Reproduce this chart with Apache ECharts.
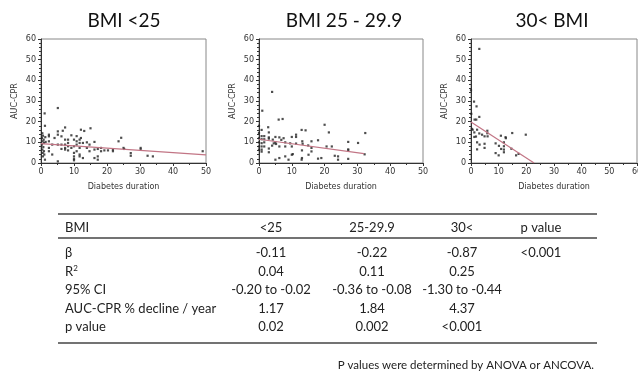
<!DOCTYPE html>
<html><head><meta charset="utf-8">
<script src="https://cdn.jsdelivr.net/npm/echarts@6/dist/echarts.min.js"></script>
<style>html,body{margin:0;padding:0;background:#fff}#c{width:638px;height:372px}</style>
</head><body><div id="c"></div>
<script>
// ---- data ----
const panelTitles = ['BMI <25', 'BMI 25 - 29.9', '30< BMI'];
const xMaxes = [50, 50, 60];

const bmiLow = [
  [0.4,14.4],[0.6,13.2],[0.3,12.1],[0.8,11.3],[0.5,10.5],[0.9,9.7],[0.3,8.9],[0.7,7.7],[0.4,6.5],[0.9,5.7],[0.5,4.9],[1.0,4.1],[0.6,3.2],[1.2,1.6],
  [1.1,24],[1.2,18],[1.3,12.5],[1.4,10.2],
  [2.4,13.7],[2.4,12.9],[2.4,10.5],[2.4,7.3],[2.4,5.7],
  [3.4,8.9],[3.4,4.1],[4.1,12.1],
  [5.1,26.6],[5.1,15.3],[5.1,13.7],[5.1,8.9],[5.1,0.8],
  [6.2,12.9],[6.2,8.9],[6.2,6.8],[6.6,15.6],
  [7.3,17.2],[7.3,11.3],[7.3,8.9],[7.3,7.3],[7.3,6.5],
  [8.2,11.3],[8.2,9.7],[8.2,8.1],[8.2,6.1],
  [9.2,13.4],[9.2,7.3],
  [10.0,11.3],[10.0,8.1],[10.0,4.9],[10.0,3.2],[10.0,2.0],[10.0,1.3],
  [10.8,13.0],[10.8,10.5],[10.8,8.9],[10.8,5.7],
  [11.7,11.3],[11.7,9.7],[11.7,7.3],[11.7,4.1],[11.7,3.2],
  [12.1,16.1],[12.1,12.1],[12.7,9.7],[12.7,2.4],[13.1,15.5],
  [13.9,10.0],[13.9,7.3],[14.7,8.9],[14.7,5.7],[15,16.8],
  [16.2,10.2],[16.2,6.5],[16.2,2.4],
  [17.2,6.8],[17.2,3.2],[17.2,1.6],
  [18.2,7.3],[18.2,5.7],[19.2,6.1],[20.3,6.1],
  [21.8,6.5],[21.8,5.7],[23.5,10.5],[24.3,12.2],[25,7.3],[25.2,6.8],
  [27.2,4.8],[27.2,3.5],[30.2,7.3],[30.2,6.5],[32.3,3.5],[33.9,3.2],[49,5.7]
];
const bmiMid = [
  [4,34.4],[1,25.3],[6,21],[7.2,21.3],[2.8,17.3],[0,18],[0,14.5],[0,10],[0,8],[0,6.5],[0,12],
  [0.8,13],[0.8,11.5],[0.8,9.6],[0.8,8],[0.8,6.5],[0.8,5.5],[0.8,16],
  [1.6,13],[1.6,11.5],[1.6,10],[1.6,8],
  [3,12.4],[3,14.8],[3,7],[3,5.2],[3,11.8],
  [4,8.4],[4.2,11.3],[4.5,9.5],
  [5,12.6],[5,10],[5,1.6],[5.2,9.2],
  [6.2,12.4],[6.2,8],[6.2,2.4],[6.8,11.2],
  [8,10],[8,8],[8,3.2],[7.5,12],
  [9,1.6],[9.5,9.5],
  [10,12.6],[10,8],[10,4],[10.3,4.3],
  [11.3,13.7],[11.3,12.6],[11.3,9.4],
  [13,16],[14.2,15.8],[13.2,10.5],[13.1,6.1],[13.1,2.4],[13,1.6],[13.3,9.3],
  [15.1,4],[15,8.5],[16,10.5],[16,7.3],[16,5.6],
  [18,2.1],[19,2.4],[18,11],
  [20,18.5],[21.3,14.8],[20.6,8],[22.2,8],
  [23.1,3.5],[24.1,3.2],[24.1,1.6],
  [27.2,10.2],[27.2,6.1],[27.2,2],[27.2,6.6],
  [30.2,9.7],[32.4,14.5],[32.2,4.2]
];
const bmiHigh = [
  [3,55.2],[0,35.2],[1.1,29.7],[2.0,27.4],[3.0,22.3],[0.1,23.8],[1.3,21],[1.9,21],
  [0.6,16.1],[2.2,16.1],[1.2,14.8],[1.2,12.6],[3,14.3],[4,13.7],[4.9,12.9],
  [5.9,15.6],[5.9,14.4],[6,12.9],[2.2,10],[2.2,6.6],[3.1,8.9],[4.9,9.3],[4.9,7.3],
  [8.9,9.5],[10.1,8.3],[10,3.7],[8.9,4.8],[10.8,13.2],[10.9,6.8],
  [11.9,10],[11.9,8.1],[11.9,6.5],[11.9,5.2],[12.5,12.5],[12.6,12],
  [14.9,14.5],[14.6,6.9],[16.3,3.7],[17.2,4.4],[19.8,13.7],[0.3,16.5],[1.8,12.8]
];
const fitLow = [[0, 9.4], [50, 3.9]];
const fitMid = [[0, 11.5], [32, 4.5]];
const fitHigh = [[0, 19.8], [22.8, 0]];

const tableHeader = ['BMI', '<25', '25-29.9', '30<', 'p value'];
const rowBeta = ['β', '-0.11', '-0.22', '-0.87', '<0.001'];
const rowR2 = ['R{sup|2}', '0.04', '0.11', '0.25', ''];
const rowCI = ['95% CI', '-0.20 to -0.02', '-0.36 to -0.08', '-1.30 to -0.44', ''];
const rowDecline = ['AUC-CPR % decline / year', '1.17', '1.84', '4.37', ''];
const rowP = ['p value', '0.02', '0.002', '<0.001', ''];
const footnote = 'P values were determined by ANOVA or ANCOVA.';

// ---- layout ----
const scatterData = [bmiLow, bmiMid, bmiHigh];
const fitData = [fitLow, fitMid, fitHigh];
const grids = [
  {left: 41, top: 39, width: 165, height: 124},
  {left: 259, top: 39, width: 164, height: 124},
  {left: 471, top: 39, width: 166, height: 124}
];
const axisFont = {fontFamily: 'DejaVu Sans', fontSize: 8, color: '#333'};
const tableFont = 'Lato';

const option = {
  animation: false,
  backgroundColor: '#fff',
  grid: grids.map(g => Object.assign({show: true, borderColor: '#888', borderWidth: 1, containLabel: false, outerBoundsMode: 'none'}, g)),
  xAxis: grids.map((g, i) => ({
    gridIndex: i, type: 'value', min: 0, max: xMaxes[i], interval: 10,
    axisLine: {show: true, onZero: false, lineStyle: {color: '#333', width: 1}},
    axisTick: {show: true, length: 3, lineStyle: {color: '#333'}},
    minorTick: {show: true, splitNumber: 2, length: 2, lineStyle: {color: '#333'}},
    splitLine: {show: false},
    axisLabel: Object.assign({margin: 5, showMaxLabel: true, hideOverlap: false}, axisFont),
    name: 'Diabetes duration', nameLocation: 'middle', nameGap: 20,
    nameTextStyle: axisFont
  })),
  yAxis: grids.map((g, i) => ({
    gridIndex: i, type: 'value', min: 0, max: 60, interval: 10,
    axisLine: {show: true, onZero: false, lineStyle: {color: '#333', width: 1}},
    axisTick: {show: true, length: 3, lineStyle: {color: '#333'}},
    minorTick: {show: true, splitNumber: 5, length: 2, lineStyle: {color: '#333'}},
    splitLine: {show: false},
    axisLabel: Object.assign({margin: 5}, axisFont),
    name: 'AUC-CPR', nameLocation: 'middle', nameGap: 22,
    nameTextStyle: axisFont
  })),
  series: [].concat(
    scatterData.map((d, i) => ({
      type: 'scatter', xAxisIndex: i, yAxisIndex: i, data: d,
      symbol: 'rect', symbolSize: 2.2, itemStyle: {color: '#222'}, silent: true
    })),
    fitData.map((d, i) => ({
      type: 'line', xAxisIndex: i, yAxisIndex: i, data: d,
      symbol: 'none', lineStyle: {color: '#c27585', width: 1.2}, silent: true, z: 3
    }))
  ),
  graphic: []
};

// titles
const titleCenters = [124, 344, 552];
panelTitles.forEach((t, i) => {
  option.graphic.push({type: 'text', x: titleCenters[i], y: 21, style: {
    text: t, font: '19px ' + tableFont, fill: '#111', align: 'center', verticalAlign: 'middle'}});
});

// table
const colX = [65, 271, 372, 462, 541];
const rowY = [227.5, 252.5, 271.5, 290, 308.5, 326.5];
const rows = [tableHeader, rowBeta, rowR2, rowCI, rowDecline, rowP];
rows.forEach((r, ri) => {
  r.forEach((cell, ci) => {
    if (!cell) return;
    option.graphic.push({type: 'text', x: colX[ci], y: rowY[ri], style: {
      text: cell, font: '13px ' + tableFont, fill: '#222',
      align: ci === 0 ? 'left' : 'center', verticalAlign: 'middle',
      rich: {sup: {fontSize: 8, fontFamily: tableFont, verticalAlign: 'top', padding: [0, 0, 6, 0], fill: '#222'}}
    }});
  });
});
const ruleYs = [214, 238, 343];
ruleYs.forEach(y => {
  option.graphic.push({type: 'line', shape: {x1: 58, y1: y, x2: 597, y2: y},
    style: {stroke: '#444', lineWidth: 1.5}});
});
option.graphic.push({type: 'text', x: 594, y: 365, style: {
  text: footnote, font: '11.5px ' + tableFont, fill: '#222', align: 'right', verticalAlign: 'middle'}});

const chart = echarts.init(document.getElementById('c'), null, {renderer: 'canvas'});
chart.setOption(option);
</script></body></html>
